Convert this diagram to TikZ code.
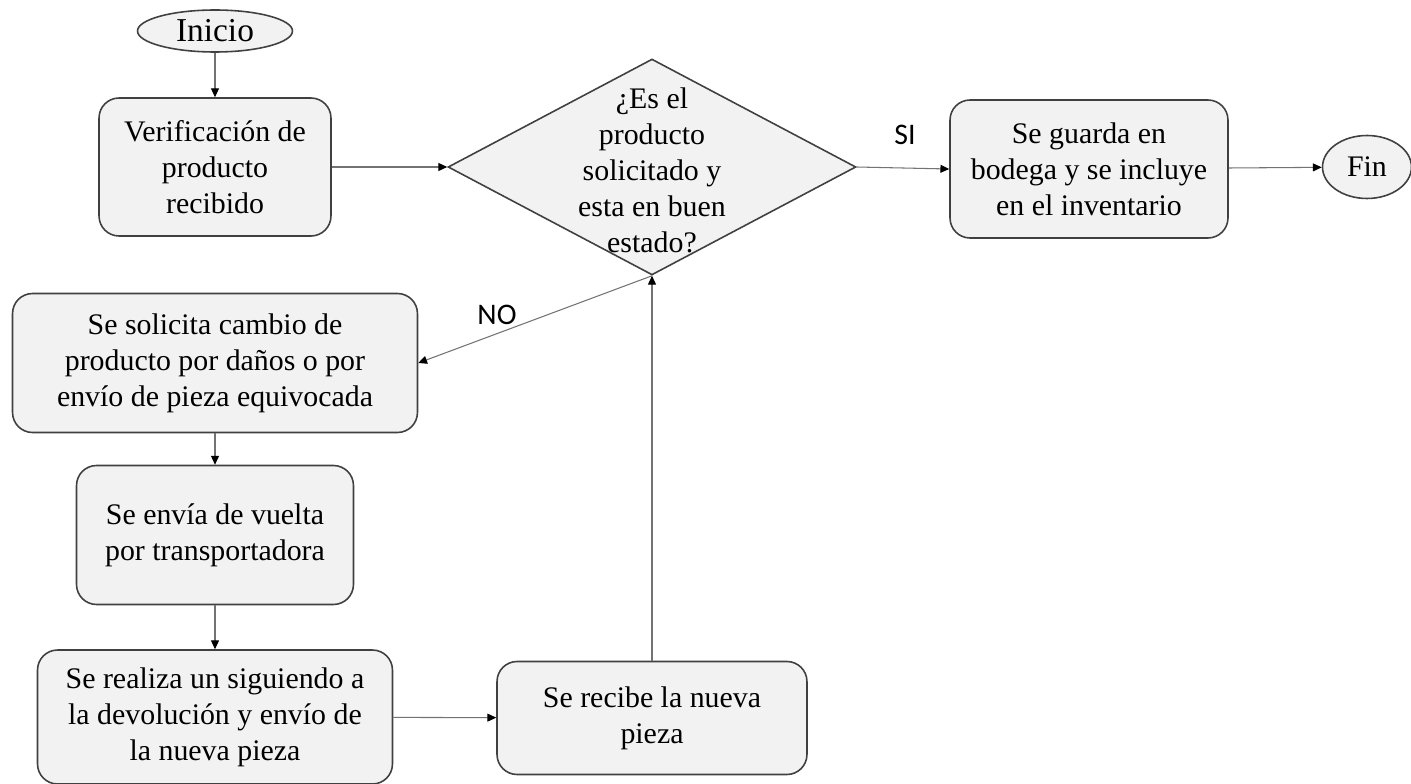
\documentclass[tikz,border=0pt]{standalone}
\usepackage{fontspec}
\setmainfont{Liberation Serif}
\newfontfamily\lblfont{Carlito}
\usepackage{tikz}
\usetikzlibrary{positioning, arrows.meta, shapes.geometric}
\definecolor{pfill}{RGB}{242,242,242}
\definecolor{pline}{RGB}{64,64,64}
\definecolor{aline}{RGB}{115,115,115}

\begin{document}
\begin{tikzpicture}[x=0.02cm, y=-0.02cm,
        every node/.style={font=\fontsize{17}{20.5}\selectfont},
        proc/.style={draw=pline, fill=pfill, line width=0.9pt, rounded corners=0.4cm, align=center, inner sep=0pt},
        term/.style={draw=pline, fill=pfill, line width=0.9pt, ellipse, inner sep=0pt},
        dec/.style={draw=pline, fill=pfill, line width=0.9pt, diamond, inner sep=0pt},
        lbl/.style={font=\lblfont\fontsize{17}{20}\selectfont},
        arr/.style={-{Triangle[length=5pt, width=4.5pt, color=black]}, draw=aline, line width=0.6pt}]
      \useasboundingbox (0,0) rectangle (1411,784);

      \node[term, minimum width=3.1cm, minimum height=0.84cm, font=\fontsize{19}{22}\selectfont] (ini) at (215,31) {Inicio};
      \node[proc, minimum width=4.64cm, minimum height=2.76cm] (ver) at (215,167) {Verificación de\\producto\\recibido};
      \node[dec, minimum width=8.16cm, minimum height=4.32cm] (q) at (652,167) {};
      \node[align=center] (qtxt) at (652,170) {¿Es el\\producto\\solicitado y\\esta en buen\\estado?};
      \node[proc, minimum width=5.56cm, minimum height=2.76cm] (bod) at (1089,169) {Se guarda en\\bodega y se incluye\\en el inventario};
      \node[term, minimum width=1.78cm, minimum height=1.26cm] (fin) at (1367,167) {Fin};

      \node[proc, minimum width=8.1cm, minimum height=2.78cm] (sol) at (215,363) {Se solicita cambio de\\producto por daños o por\\envío de pieza equivocada};
      \node[proc, minimum width=5.54cm, minimum height=2.78cm] (env) at (215,535) {Se envía de vuelta\\por transportadora};
      \node[proc, minimum width=7.1cm, minimum height=2.68cm] (rea) at (215,717) {Se realiza un siguiendo a\\la devolución y envío de\\la nueva pieza};
      \node[proc, minimum width=6.2cm, minimum height=2.26cm] (rec) at (652,718) {Se recibe la nueva\\pieza};

      \node[lbl] (si) at (905,135) {SI};
      \node[lbl] (no) at (497,315) {NO};

      \draw[arr] (ini) -- (ver);
      \draw[arr] (ver) -- (q);
      \draw[arr] (q.east) -- (bod.west);
      \draw[arr] (bod) -- (fin);
      \draw[arr] (q.south) -- (sol.east);
      \draw[arr] (sol) -- (env);
      \draw[arr] (env) -- (rea);
      \draw[arr] (rea) -- (rec);
      \draw[arr] (rec) -- (q.south);
    \end{tikzpicture}
\end{document}
